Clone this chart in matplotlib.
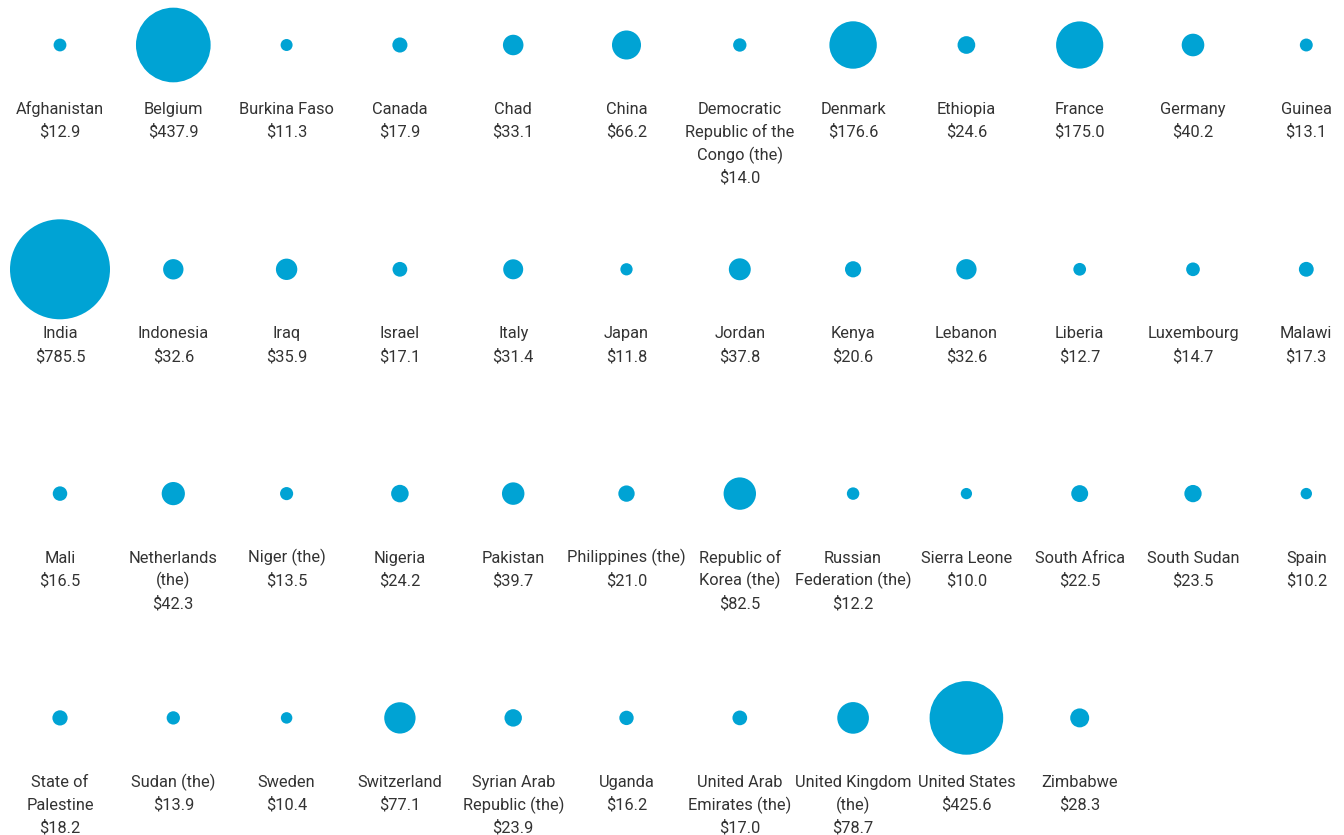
import numpy as np
import matplotlib.pyplot as plt

# countries (with the line breaks used in the labels) and amounts
countries = [
    "Afghanistan", "Belgium", "Burkina Faso", "Canada", "Chad", "China",
    "Democratic\nRepublic of the\nCongo (the)", "Denmark", "Ethiopia", "France", "Germany", "Guinea",
    "India", "Indonesia", "Iraq", "Israel", "Italy", "Japan",
    "Jordan", "Kenya", "Lebanon", "Liberia", "Luxembourg", "Malawi",
    "Mali", "Netherlands\n(the)", "Niger (the)", "Nigeria", "Pakistan", "Philippines (the)",
    "Republic of\nKorea (the)", "Russian\nFederation (the)", "Sierra Leone", "South Africa", "South Sudan", "Spain",
    "State of\nPalestine", "Sudan (the)", "Sweden", "Switzerland", "Syrian Arab\nRepublic (the)", "Uganda",
    "United Arab\nEmirates (the)", "United Kingdom\n(the)", "United States", "Zimbabwe",
]
values = [
    12.9, 437.9, 11.3, 17.9, 33.1, 66.2, 14.0, 176.6, 24.6, 175.0, 40.2, 13.1,
    785.5, 32.6, 35.9, 17.1, 31.4, 11.8, 37.8, 20.6, 32.6, 12.7, 14.7, 17.3,
    16.5, 42.3, 13.5, 24.2, 39.7, 21.0, 82.5, 12.2, 10.0, 22.5, 23.5, 10.2,
    18.2, 13.9, 10.4, 77.1, 23.9, 16.2, 17.0, 78.7, 425.6, 28.3,
]

ncols = 12
vals = np.array(values)
cols = np.arange(len(vals)) % ncols
rows = np.arange(len(vals)) // ncols

row_h = 224.3  # pixels between bubble rows
fig = plt.figure(figsize=(13.44, 8.35), dpi=100)
ax = fig.add_axes([0, 0, 1, 1])
ax.set_xlim(-60 / 113.3, (1344 - 60) / 113.3)
ax.set_ylim((835 - 45) / row_h, -45 / row_h)
ax.axis("off")

# bubble area proportional to value; largest ~100 px wide
sizes = vals / vals.max() * 72 ** 2
ax.scatter(cols, rows, s=sizes, color="#00a3d4", linewidths=0)

# one text per line so every baseline sits on the same grid
for c, r, name, v in zip(cols, rows, countries, vals):
    lines = name.split("\n") + [f"${v:.1f}"]
    for k, line in enumerate(lines):
        ax.text(c, r + (69 + 23 * k) / row_h, line, ha="center", va="baseline",
                fontsize=11.8, color="#333333", family="Roboto")

fig.savefig("out.png", dpi=100)
